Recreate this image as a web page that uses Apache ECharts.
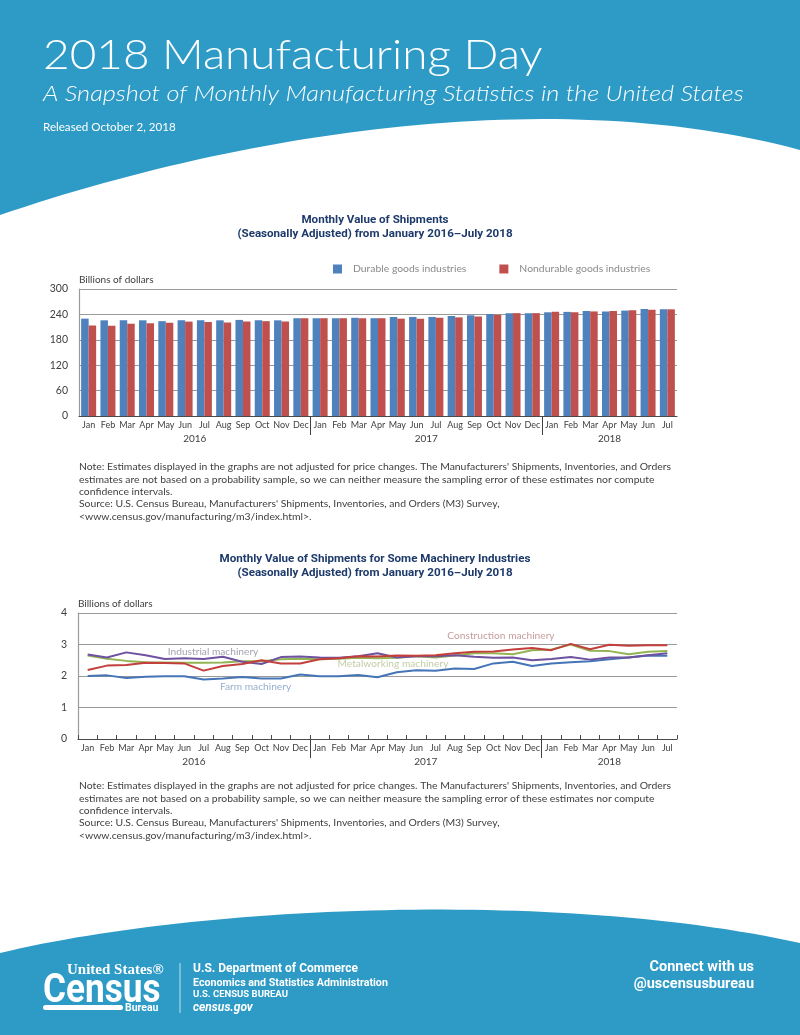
<!DOCTYPE html>
<html><head><meta charset="utf-8">
<script src="https://cdn.jsdelivr.net/npm/echarts@6/dist/echarts.min.js"></script>
<style>html,body{margin:0;padding:0;background:#fff}#main{width:800px;height:1035px}</style>
</head><body><div id="main"></div>
<script>
// ---------- data ----------
const months = ['Jan','Feb','Mar','Apr','May','Jun','Jul','Aug','Sep','Oct','Nov','Dec',
                'Jan','Feb','Mar','Apr','May','Jun','Jul','Aug','Sep','Oct','Nov','Dec',
                'Jan','Feb','Mar','Apr','May','Jun','Jul'];
const years = ['2016','2017','2018'];
const monthsPerYear = [12,12,7];

const durable = [230,226,226,226,224,226,226,226,227,226,226,231,
                 231,231,232,231,234,234,234,236,238,241,243,243,
                 245,246,248,247,249,253,252];
const nondurable = [214,213,218,219,220,223,222,221,223,224,223,231,
                    231,231,231,231,230,230,232,233,235,239,243,243,
                    246,245,247,248,250,251,252];
const shipTicks = {min:0, max:300, interval:60};

const industrial = [2.68,2.59,2.75,2.66,2.54,2.56,2.54,2.61,2.45,2.38,2.60,2.62,
                    2.59,2.58,2.63,2.72,2.59,2.63,2.63,2.66,2.61,2.58,2.59,2.50,
                    2.54,2.60,2.52,2.59,2.59,2.66,2.72];
const construction = [2.19,2.33,2.35,2.42,2.41,2.40,2.17,2.32,2.38,2.50,2.40,2.40,
                      2.53,2.56,2.63,2.62,2.65,2.64,2.66,2.72,2.77,2.78,2.84,2.89,
                      2.82,3.02,2.85,2.99,2.96,2.98,2.98];
const metalworking = [2.65,2.55,2.48,2.44,2.43,2.42,2.42,2.43,2.47,2.47,2.53,2.55,
                      2.53,2.55,2.58,2.56,2.58,2.63,2.59,2.65,2.72,2.72,2.69,2.82,
                      2.84,3.00,2.80,2.79,2.69,2.77,2.79];
const farm = [2.00,2.02,1.94,1.98,1.99,1.99,1.89,1.92,1.97,1.92,1.92,2.05,
              1.99,1.99,2.03,1.96,2.12,2.18,2.17,2.24,2.22,2.40,2.45,2.32,
              2.40,2.44,2.47,2.53,2.59,2.65,2.64];
const machTicks = {min:0, max:4, interval:1};
// line annotations: [month position, value]
const lineLabels = [
  {name:'Industrial machinery', pos:6.99, value:2.78, color:'#8f8a9e'},
  {name:'Construction machinery', pos:21.89, value:3.27, color:'#b98585'},
  {name:'Metalworking machinery', pos:16.30, value:2.38, color:'#b4bf8d'},
  {name:'Farm machinery', pos:9.19, value:1.66, color:'#7b9bc0'}
];

// ---------- derived ----------
const yearSeparators = [];
const yearCenters = [];
{ let acc = 0; monthsPerYear.forEach((n,i)=>{ yearCenters.push(acc + n/2); acc += n; if (i < monthsPerYear.length-1) yearSeparators.push(acc); }); }
const nMonths = months.length;

const FONT = 'Lato, "Open Sans", sans-serif';
const COND = 'Roboto, "Open Sans", sans-serif';
const TXT = '#404040';
const NAVY = '#1d3a6b';
const GRID = '#9a9a9a';
const BLUE = '#2e9bc6';

// decorative band edge (cubic bezier sampled into polygon points)
function bez(p0,p1,p2,p3,n){
  const pts=[];
  for(let i=0;i<=n;i++){const t=i/n,u=1-t;
    pts.push([u*u*u*p0[0]+3*u*u*t*p1[0]+3*u*t*t*p2[0]+t*t*t*p3[0],
              u*u*u*p0[1]+3*u*u*t*p1[1]+3*u*t*t*p2[1]+t*t*t*p3[1]]);}
  return pts;
}
const headerPts = [[0,0],[800,0]].concat(bez([800,150],[560,85],[250,130],[0,215],60));
const footerPts = [[0,1035]].concat(bez([0,953],[200,905],[560,890],[800,943],60)).concat([[800,1035]]);

const noteText = "Note: Estimates displayed in the graphs are not adjusted for price changes. The Manufacturers' Shipments, Inventories, and Orders\n" +
  "estimates are not based on a probability sample, so we can neither measure the sampling error of these estimates nor compute\n" +
  "confidence intervals.\n" +
  "Source: U.S. Census Bureau, Manufacturers' Shipments, Inventories, and Orders (M3) Survey,\n" +
  "<www.census.gov/manufacturing/m3/index.html>.";

function yearAxis(gridIndex){
  return {
    type:'value', gridIndex, min:0, max:nMonths, interval:0.5, position:'bottom',
    axisLine:{show:false}, splitLine:{show:false},
    axisTick:{show:true, customValues: yearSeparators, length:19, lineStyle:{color:'#404040', width:1}},
    axisLabel:{customValues: yearCenters, margin:18, fontSize:10, color:TXT, fontFamily:FONT,
      formatter:(v)=>{ const i = yearCenters.indexOf(v); return i>=0 ? years[i] : ''; }}
  };
}

function valAxis(gridIndex, t){
  return {
    type:'value', gridIndex, min:t.min, max:t.max, interval:t.interval,
    name:'Billions of dollars', nameLocation:'end', nameGap:4,
    nameTextStyle:{align:'left', verticalAlign:'bottom', fontSize:10, color:TXT, fontFamily:FONT},
    axisLine:{show:true, lineStyle:{color:GRID, width:1.2}},
    axisTick:{show:false},
    axisLabel:{fontSize:10.5, color:TXT, margin:11, fontFamily:FONT},
    splitLine:{show:true, lineStyle:{color:GRID, width:1.2}}
  };
}

const chart = echarts.init(document.getElementById('main'), null, {renderer:'canvas'});
const option = {
  animation:false,
  backgroundColor:'#fff',
  textStyle:{fontFamily:FONT},
  grid:[
    {left:79, top:289, width:598, height:127},
    {left:78, top:613, width:599, height:126}
  ],
  legend:{
    data:['Durable goods industries','Nondurable goods industries'],
    left:333, top:264, padding:0, itemGap:33, itemWidth:9, itemHeight:9, icon:'rect',
    textStyle:{color:'#8a8a8a', fontSize:10.4, fontFamily:FONT, padding:[0,0,0,6]}
  },
  xAxis:[
    {type:'category', gridIndex:0, data:months, boundaryGap:true,
     axisLine:{lineStyle:{color:'#4a4a4a', width:1.2}}, axisTick:{show:false},
     axisLabel:{interval:0, fontSize:9, color:TXT, margin:5, fontFamily:FONT}},
    yearAxis(0),
    {type:'category', gridIndex:1, data:months, boundaryGap:true,
     axisLine:{lineStyle:{color:'#4a4a4a', width:1.2}},
     axisTick:{show:true, inside:true, length:4, interval:0, lineStyle:{color:'#4a4a4a'}},
     axisLabel:{interval:0, fontSize:9, color:TXT, margin:5, fontFamily:FONT}},
    yearAxis(1)
  ],
  yAxis:[ valAxis(0, shipTicks), valAxis(1, machTicks) ],
  series:[
    {name:'Durable goods industries', type:'bar', xAxisIndex:0, yAxisIndex:0, data:durable,
     barWidth:7.5, barGap:'0%', itemStyle:{color:'#4f81bd'}},
    {name:'Nondurable goods industries', type:'bar', xAxisIndex:0, yAxisIndex:0, data:nondurable,
     barWidth:7.5, barGap:'0%', itemStyle:{color:'#c0504d'}},
    {name:'Farm machinery', type:'line', xAxisIndex:2, yAxisIndex:1, data:farm, symbol:'none',
     lineStyle:{color:'#4575b6', width:2}},
    {name:'Metalworking machinery', type:'line', xAxisIndex:2, yAxisIndex:1, data:metalworking, symbol:'none',
     lineStyle:{color:'#93b452', width:2}},
    {name:'Industrial machinery', type:'line', xAxisIndex:2, yAxisIndex:1, data:industrial, symbol:'none',
     lineStyle:{color:'#6e52a0', width:2}},
    {name:'Construction machinery', type:'line', xAxisIndex:2, yAxisIndex:1, data:construction, symbol:'none',
     lineStyle:{color:'#c23f3c', width:2}},
    {name:'labels', type:'scatter', xAxisIndex:3, yAxisIndex:1, symbolSize:0, silent:true,
     data: lineLabels.map(l=>({value:[l.pos, l.value], name:l.name,
        label:{show:true, position:'inside', formatter:l.name, color:l.color, fontSize:10.2, fontFamily:FONT}}))}
  ],
  graphic:[
    {type:'polygon', shape:{points:headerPts}, style:{fill:BLUE}, z:0},
    {type:'text', x:43, y:56, scaleX:1.12, style:{text:'2018 Manufacturing Day', fill:'#fff', fontSize:41, fontWeight:300, fontFamily:FONT, verticalAlign:'middle'}},
    {type:'text', x:43, y:94, scaleX:1.15, style:{text:'A Snapshot of Monthly Manufacturing Statistics in the United States', fill:'#fff', fontSize:22, fontWeight:300, fontStyle:'italic', fontFamily:FONT, verticalAlign:'middle'}},
    {type:'text', x:43, y:127, style:{text:'Released October 2, 2018', fill:'#fff', fontSize:11.6, fontFamily:FONT, verticalAlign:'middle'}},
    {type:'text', x:375, y:220, style:{text:'Monthly Value of Shipments', fill:NAVY, fontSize:11.6, fontWeight:'bold', fontFamily:COND, align:'center', verticalAlign:'middle'}},
    {type:'text', x:375, y:234, style:{text:'(Seasonally Adjusted) from January 2016\u2013July 2018', fill:NAVY, fontSize:11.6, fontWeight:'bold', fontFamily:COND, align:'center', verticalAlign:'middle'}},
    {type:'text', x:375, y:559, style:{text:'Monthly Value of Shipments for Some Machinery Industries', fill:NAVY, fontSize:11.6, fontWeight:'bold', fontFamily:COND, align:'center', verticalAlign:'middle'}},
    {type:'text', x:375, y:573, style:{text:'(Seasonally Adjusted) from January 2016\u2013July 2018', fill:NAVY, fontSize:11.6, fontWeight:'bold', fontFamily:COND, align:'center', verticalAlign:'middle'}},
    {type:'text', x:79, y:461, style:{text:noteText, fill:TXT, fontSize:10.4, lineHeight:12.3, fontFamily:FONT, verticalAlign:'top'}},
    {type:'text', x:79, y:780, style:{text:noteText, fill:TXT, fontSize:10.4, lineHeight:12.3, fontFamily:FONT, verticalAlign:'top'}},
    {type:'polygon', shape:{points:footerPts}, style:{fill:BLUE}, z:0},
    {type:'text', x:67, y:970, style:{text:'United States\u00ae', fill:'#fff', fontSize:15, fontWeight:'bold', fontFamily:'"Liberation Serif", serif', verticalAlign:'middle'}},
    {type:'text', x:43, y:992, scaleX:0.88, style:{text:'Census', fill:'#fff', fontSize:40, fontWeight:'bold', fontFamily:'Roboto, sans-serif', verticalAlign:'middle'}},
    {type:'rect', shape:{x:43, y:1005, width:80, height:5, r:2.5}, style:{fill:'#fff'}},
    {type:'text', x:125, y:1008, style:{text:'Bureau', fill:'#fff', fontSize:10.5, fontWeight:'bold', fontFamily:'Roboto, sans-serif', verticalAlign:'middle'}},
    {type:'line', shape:{x1:180, y1:963, x2:180, y2:1013}, style:{stroke:'rgba(255,255,255,0.7)', lineWidth:1}},
    {type:'text', x:193, y:969, style:{text:'U.S. Department of Commerce', fill:'#fff', fontSize:12, fontWeight:'bold', fontFamily:COND, verticalAlign:'middle'}},
    {type:'text', x:193, y:983, style:{text:'Economics and Statistics Administration', fill:'#fff', fontSize:10.7, fontWeight:'bold', fontFamily:COND, verticalAlign:'middle'}},
    {type:'text', x:193, y:995, style:{text:'U.S. CENSUS BUREAU', fill:'#fff', fontSize:9.5, fontWeight:'bold', fontFamily:COND, verticalAlign:'middle'}},
    {type:'text', x:193, y:1008, style:{text:'census.gov', fill:'#fff', fontSize:12, fontWeight:'bold', fontStyle:'italic', fontFamily:COND, verticalAlign:'middle'}},
    {type:'text', x:754, y:967, style:{text:'Connect with us', fill:'#fff', fontSize:14.5, fontWeight:'bold', fontFamily:COND, align:'right', verticalAlign:'middle'}},
    {type:'text', x:754, y:984, style:{text:'@uscensusbureau', fill:'#fff', fontSize:14.5, fontWeight:'bold', fontFamily:COND, align:'right', verticalAlign:'middle'}}
  ]
};
chart.setOption(option);
</script>
</body></html>
